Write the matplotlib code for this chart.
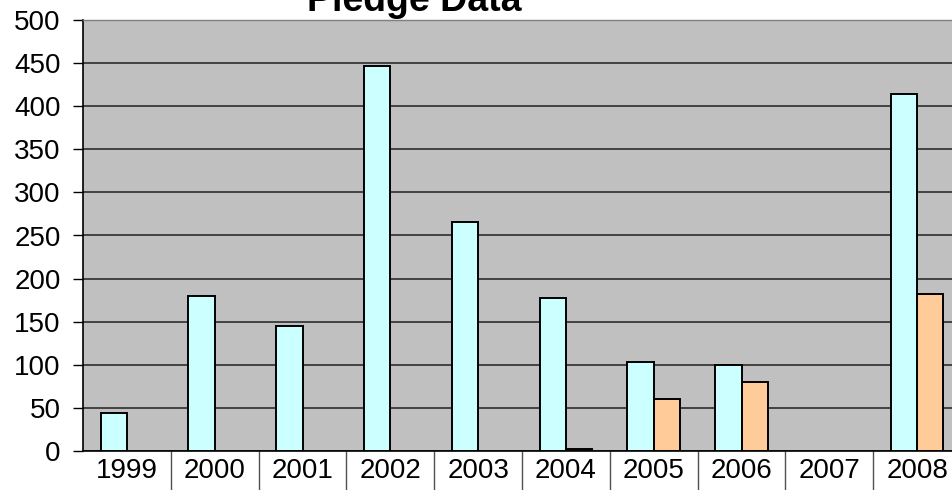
import numpy as np
import matplotlib.pyplot as plt
from matplotlib.ticker import FixedLocator

years = ["1999", "2000", "2001", "2002", "2003", "2004", "2005", "2006", "2007", "2008"]
series_a = [44, 180, 145, 447, 266, 177, 103, 100, None, 414]
series_b = [None, None, None, None, None, 2, 60, 80, None, 182]

plt.rcParams['font.family'] = ['Liberation Sans', 'DejaVu Sans']

W, H = 952, 490
fig = plt.figure(figsize=(W / 100, H / 100), dpi=100)
ax = fig.add_axes([83 / W, (H - 451) / H, (961 - 83) / W, (451 - 20) / H])
ax.set_facecolor('#C0C0C0')

x = np.arange(len(years))
width = 0.3
ia = [i for i, v in enumerate(series_a) if v is not None]
ib = [i for i, v in enumerate(series_b) if v is not None]
ax.bar(x[ia] - width / 2, [series_a[i] for i in ia], width, color='#CCFFFF',
       edgecolor='black', linewidth=1.4, zorder=3)
ax.bar(x[ib] + width / 2, [series_b[i] for i in ib], width, color='#FFCC99',
       edgecolor='black', linewidth=1.4, zorder=3)

ax.set_xlim(-0.5, len(years) - 0.5)
ax.set_ylim(0, 500)
ax.set_yticks(np.arange(0, 501, 50))
ax.yaxis.grid(True, color='#202020', linewidth=1.1, zorder=1)
ax.set_axisbelow(True)

ax.set_xticks(x)
ax.set_xticklabels(years)
ax.xaxis.set_minor_locator(FixedLocator(np.arange(0.5, len(years) - 0.5, 1)))
ax.tick_params(axis='x', which='major', length=0, pad=5, labelsize=20)
ax.tick_params(axis='x', which='minor', length=30, width=1, color='#505050')
ax.tick_params(axis='y', length=7, width=1, pad=9, labelsize=20)

for s in ['top', 'right']:
    ax.spines[s].set_visible(False)
ax.spines['left'].set_linewidth(1.2)
ax.spines['bottom'].set_linewidth(1.2)
ax.plot([-0.5, len(years) - 0.5], [500, 500], color='#808080', linewidth=1,
        clip_on=False, zorder=4)

fig.text(414 / W, (H - 11) / H, "Pledge Data", ha='center', va='baseline',
         fontsize=27, fontweight='bold')

fig.savefig("out.png", dpi=100)
